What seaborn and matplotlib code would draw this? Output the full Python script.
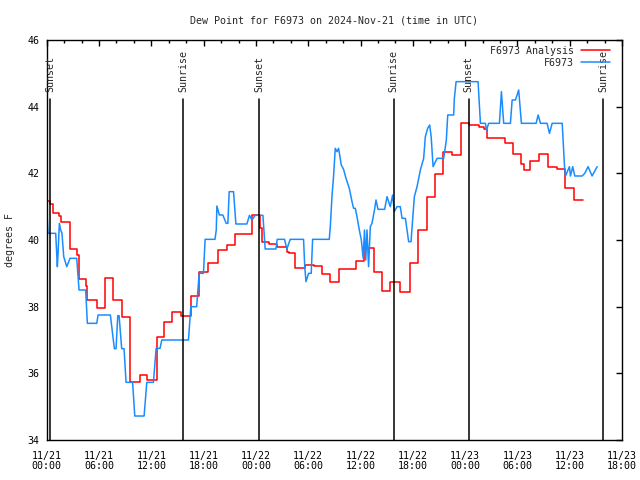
import pandas as pd
import seaborn as sns
import matplotlib
matplotlib.use("Agg")
import matplotlib.pyplot as plt
import matplotlib.dates as mdates

# === Data (hours after 2024-11-21 00:00 UTC, dew point in F) ===
start = pd.Timestamp("2024-11-21 00:00")

# analysis: value holds from each hour until the next one
analysis_hours = [0, 0.38, 0.76, 1.41, 1.6, 2.67, 3.44, 3.71, 4.47, 4.59,
                  5.74, 6.7, 7.6, 8.6, 9.6, 10.71, 11.48, 12.6, 13.5, 14.42,
                  15.4, 16.6, 17.45, 18.55, 19.7, 20.67, 21.6, 23.55, 24.5, 24.75,
                  25.52, 26.4, 27.55, 27.74, 28.43, 29.58, 30.61, 31.57, 32.53, 33.48,
                  35.47, 36.35, 37.58, 38.46, 39.41, 40.56, 41.65, 42.6, 43.6, 44.58,
                  45.46, 46.5, 47.53, 48.4, 49.55, 50.13, 50.52, 52.54, 53.46, 54.46,
                  54.72, 55.49, 56.52, 57.52, 58.55, 59.5, 60.46, 61.49]
analysis_vals = [41.18, 41.08, 40.82, 40.72, 40.53, 39.72, 39.55, 38.82, 38.62, 38.2,
                 37.95, 38.85, 38.2, 37.7, 35.75, 35.95, 35.8, 37.1, 37.53, 37.83,
                 37.73, 38.33, 39.05, 39.3, 39.7, 39.85, 40.17, 40.74, 40.35, 39.95,
                 39.87, 39.8, 39.65, 39.6, 39.17, 39.25, 39.22, 38.97, 38.74, 39.12,
                 39.37, 39.75, 39.03, 38.47, 38.75, 38.43, 39.3, 40.3, 41.3, 41.98,
                 42.65, 42.55, 43.5, 43.45, 43.38, 43.32, 43.05, 42.92, 42.57, 42.28,
                 42.1, 42.38, 42.57, 42.2, 42.12, 41.55, 41.2, 41.2]

# station observations
station_hours = [0.0, 0.15, 1.03, 1.22, 1.3, 1.45, 1.6, 1.75, 1.95, 2.3,
                 2.67, 3.44, 3.71, 4.47, 4.66, 5.74, 5.89, 7.3, 7.76, 7.95,
                 8.15, 8.3, 8.6, 8.87, 9.1, 9.85, 10.1, 11.17, 11.48, 12.24,
                 12.55, 13.0, 13.2, 16.26, 16.53, 17.2, 17.49, 17.98, 18.17, 19.3,
                 19.45, 19.52, 19.65, 19.8, 20.2, 20.59, 20.78, 20.93, 21.43, 21.7,
                 22.96, 23.26, 23.54, 23.91, 24.8, 25.06, 26.29, 26.44, 27.28, 27.55,
                 27.93, 29.46, 29.6, 29.74, 30.04, 30.34, 30.5, 32.41, 32.53, 32.72,
                 32.9, 33.1, 33.3, 33.48, 33.79, 34.05, 34.33, 34.71, 35.02, 35.2,
                 35.4, 35.59, 35.86, 36.09, 36.3, 36.45, 36.6, 36.74, 36.92, 37.12,
                 37.31, 37.61, 37.77, 38.0, 38.76, 39.04, 39.41, 39.68, 39.87, 40.18,
                 40.56, 40.76, 41.14, 41.33, 41.52, 41.79, 42.02, 42.17, 42.48, 42.86,
                 43.24, 43.43, 43.7, 43.93, 44.1, 44.32, 44.78, 45.53, 45.65, 45.84,
                 46.0, 46.68, 46.76, 46.96, 49.48, 49.75, 50.32, 50.44, 50.7, 51.93,
                 52.16, 52.42, 53.19, 53.39, 53.77, 54.14, 54.45, 56.14, 56.37, 56.64,
                 57.4, 57.67, 57.98, 59.13, 59.4, 59.51, 59.96, 60.08, 60.34, 60.57,
                 61.42, 61.72, 62.1, 62.56, 63.14]
station_vals = [40.95, 40.2, 40.2, 39.2, 39.6, 40.5, 40.3, 40.2, 39.5, 39.2,
                39.45, 39.45, 38.5, 38.5, 37.5, 37.5, 37.75, 37.75, 36.74, 36.74,
                37.73, 37.73, 36.74, 36.74, 35.73, 35.73, 34.72, 34.72, 35.73, 35.73,
                36.75, 36.75, 37.0, 37.0, 38.0, 38.0, 39.0, 39.0, 40.02, 40.02,
                40.3, 41.02, 40.9, 40.75, 40.75, 40.5, 40.5, 41.45, 41.45, 40.48,
                40.48, 40.74, 40.6, 40.74, 40.74, 39.73, 39.73, 40.02, 40.02, 39.73,
                40.02, 40.02, 39.2, 38.75, 39.0, 39.0, 40.02, 40.02, 40.4, 41.3,
                41.9, 42.75, 42.65, 42.75, 42.25, 42.12, 41.85, 41.55, 41.15, 40.95,
                40.95, 40.7, 40.3, 40.0, 39.45, 40.3, 39.4, 40.3, 39.2, 40.4,
                40.5, 40.92, 41.2, 40.92, 40.92, 41.3, 41.0, 41.35, 40.85, 41.0,
                41.0, 40.65, 40.65, 40.3, 39.95, 39.95, 40.75, 41.3, 41.6, 42.1,
                42.45, 43.1, 43.35, 43.45, 43.1, 42.2, 42.45, 42.45, 42.65, 43.0,
                43.75, 43.75, 44.25, 44.75, 44.75, 43.5, 43.5, 43.3, 43.5, 43.5,
                44.45, 43.5, 43.5, 44.2, 44.2, 44.5, 43.5, 43.5, 43.75, 43.5,
                43.5, 43.2, 43.5, 43.5, 42.2, 41.92, 42.2, 41.92, 42.2, 41.92,
                41.92, 42.0, 42.2, 41.92, 42.2]

event_hours = [0.38, 15.68, 24.4, 39.8, 48.4, 63.83]
event_labels = ["Sunset", "Sunrise", "Sunset", "Sunrise", "Sunset", "Sunrise"]

df_a = pd.DataFrame({"time": start + pd.to_timedelta(analysis_hours, unit="h"),
                     "dewpoint": analysis_vals})
df_s = pd.DataFrame({"time": start + pd.to_timedelta(station_hours, unit="h"),
                     "dewpoint": station_vals})

# === Plot ===
sns.set_theme(style="white")
plt.rcParams["font.family"] = ["DejaVu Sans Mono"]
fs = 7.2

fig = plt.figure(figsize=(6.4, 4.8), dpi=100)
ax = fig.add_axes([0.073, 0.0833, 0.899, 0.8334])

sns.lineplot(data=df_a, x="time", y="dewpoint", ax=ax, color="#ff0000", lw=1.1,
             drawstyle="steps-post", estimator=None, sort=False, label="F6973 Analysis")
sns.lineplot(data=df_s, x="time", y="dewpoint", ax=ax, color="#1a8cff", lw=1.1,
             estimator=None, sort=False, label="F6973")

for h, lab in zip(event_hours, event_labels):
    t = start + pd.Timedelta(hours=h)
    ax.axvline(t, ymin=0, ymax=0.852, color="black", lw=1.1)
    ax.text(t, 44.45, lab, rotation=90, ha="center", va="bottom", fontsize=fs)

ax.set_xlim(start, start + pd.Timedelta(hours=66))
ax.set_ylim(34, 46)
ax.set_yticks(range(34, 47, 2))
ax.xaxis.set_major_locator(mdates.HourLocator(byhour=[0, 6, 12, 18]))
ax.xaxis.set_minor_locator(mdates.HourLocator(byhour=range(0, 24, 2)))
ax.xaxis.set_major_formatter(mdates.DateFormatter("%m/%d\n%H:%M"))

ax.tick_params(which="both", direction="in", top=True, right=True, colors="black",
               labelsize=fs, width=1)
ax.tick_params(which="major", length=4)
ax.tick_params(which="minor", length=2)
ax.tick_params(axis="x", pad=8)
ax.tick_params(axis="y", pad=5)
for s in ax.spines.values():
    s.set_color("black")
    s.set_linewidth(1)

ax.set_xlabel("")
ax.set_ylabel("degrees F", fontsize=fs)
ax.yaxis.set_label_coords(-0.055, 0.5)
ax.set_title("Dew Point for F6973 on 2024-Nov-21 (time in UTC)", fontsize=fs, pad=12)

ax.legend(loc="upper right", bbox_to_anchor=(0.99, 1.0), frameon=False, markerfirst=False,
          handlelength=2.9, fontsize=fs, borderaxespad=0.2, labelspacing=0.2,
          handletextpad=0.7)

# tighter two-line date labels
fig.canvas.draw()
for tick in ax.xaxis.get_major_ticks():
    tick.label1.set_linespacing(0.95)

fig.savefig("out.png", dpi=100)
